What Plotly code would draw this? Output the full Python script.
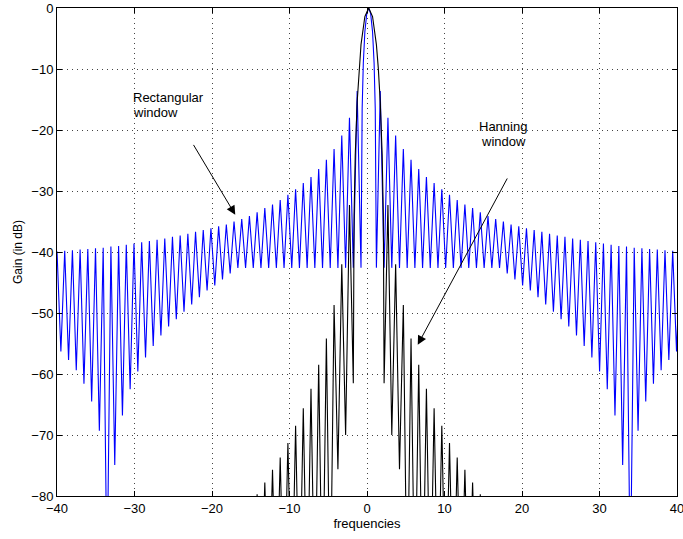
import numpy as np
import plotly.graph_objects as go

# ---------------- data ----------------
x_ticks = [-40, -30, -20, -10, 0, 10, 20, 30, 40]
y_ticks = [0, -10, -20, -30, -40, -50, -60, -70, -80]

center_freq = 0.22      # frequency of the main-lobe peak
bin_spacing = 0.993     # distance between successive nulls

# Rectangular window: main lobe (offset from centre, dB)
rect_main_offsets = [0.0, 0.25, 0.5, 0.7, 0.85]
rect_main_db = [0.0, -0.9, -3.9, -9.0, -16.5]
# null levels for nulls n = 1..40, peak levels for lobes n+0.5, n = 1..40
rect_null_db = [-42.6, -42.6, -42.6, -42.6, -42.6, -42.6, -42.6, -42.6, -42.6, -42.6,
                -42.6, -42.6, -42.6, -42.6, -42.6, -42.6, -42.6, -43.5, -44.5, -45.5,
                -46.3, -47.4, -48.6, -49.8, -51.0, -52.2, -53.7, -55.4, -57.3, -59.6,
                -62.5, -66.8, -74.9, -95.0, -69.3, -64.5, -61.6, -59.4, -57.7, -56.3]
rect_peak_db = [-13.6, -18.0, -20.9, -23.1, -24.9, -26.4, -27.7, -28.7, -29.7, -30.6,
                -31.5, -32.2, -32.8, -33.5, -34.1, -34.6, -35.0, -35.5, -35.8, -36.1,
                -36.4, -36.7, -37.0, -37.3, -37.5, -37.8, -38.0, -38.2, -38.4, -38.6,
                -38.8, -39.0, -39.1, -39.3, -39.4, -39.5, -39.6, -39.7, -39.8, -39.9]

# Hanning window: main lobe (offset from centre, dB)
hann_main_offsets = [0.0, 0.5, 1.0, 1.25, 1.5, 1.75, 1.9]
hann_main_db = [0.0, -1.4, -6.0, -9.9, -15.4, -24.1, -34.0]
# nulls n = 2..17 and lobe peaks n+0.5
hann_null_db = [-61.5, -70.0, -75.6, -100.0, -100.0, -100.0, -100.0, -100.0,
                -100.0, -100.0, -100.0, -100.0, -100.0, -100.0, -100.0, -100.0]
hann_peak_db = [-32.3, -42.0, -48.7, -54.2, -58.5, -62.4, -65.6, -68.5,
                -71.3, -73.7, -75.7, -77.8, -79.7, -81.5, -83.2, -84.8]

label_lines = [("Rectangular", -30.5, -14.6, "left"), ("window", -30.5, -17.1, "left"),
               ("Hanning", 17.6, -19.5, "center"), ("window", 17.6, -21.9, "center")]


def spectrum(main_off, main_db, first_n, null_db, peak_db):
    d = [o * bin_spacing for o in main_off]
    v = list(main_db)
    for i, (nv, pv) in enumerate(zip(null_db, peak_db)):
        n = first_n + i
        d += [n * bin_spacing, (n + 0.5) * bin_spacing]
        v += [nv, pv]
    d = np.array(d)
    v = np.array(v)
    x = np.concatenate([center_freq - d[::-1], center_freq + d[1:]])
    y = np.concatenate([v[::-1], v[1:]])
    return x, y


rx, ry = spectrum(rect_main_offsets, rect_main_db, 1, rect_null_db, rect_peak_db)
hx, hy = spectrum(hann_main_offsets, hann_main_db, 2, hann_null_db, hann_peak_db)

FONT = "Liberation Sans, Arial, Helvetica, sans-serif"

fig = go.Figure()
fig.add_trace(go.Scatter(x=rx, y=ry, mode="lines",
                         line=dict(color="#0000ff", width=1.1), name="Rectangular"))
fig.add_trace(go.Scatter(x=hx, y=hy, mode="lines",
                         line=dict(color="#000000", width=1.1), name="Hanning"))

axis_common = dict(
    showline=True, linecolor="black", linewidth=1, mirror="allticks",
    ticks="inside", ticklen=5, tickwidth=1, tickcolor="black",
    showgrid=True, gridcolor="#444444", gridwidth=1, griddash="1px,4px",
    zeroline=False, automargin=False, ticklabeloverflow="allow",
    tickfont=dict(family=FONT, size=13, color="black"),
)

fig.update_xaxes(range=[-40, 40], tickvals=x_ticks, **axis_common,
                 title=dict(text="frequencies", font=dict(family=FONT, size=13, color="black"),
                            standoff=4))
fig.update_yaxes(range=[-80, 0], tickvals=y_ticks, **axis_common,
                 title=dict(text="Gain (in dB)", font=dict(family=FONT, size=12, color="black"),
                            standoff=6))

ann_font = dict(family=FONT, size=13, color="black")
for txt, lx, ly, anchor in label_lines:
    fig.add_annotation(x=lx, y=ly, xref="x", yref="y", text=txt, showarrow=False,
                       xanchor=anchor, yanchor="middle", font=ann_font)

fig.add_annotation(x=-17.0, y=-33.9, ax=-22.5, ay=-22.2, xref="x", yref="y",
                   axref="x", ayref="y", text="", showarrow=True, arrowhead=2,
                   arrowsize=1.8, arrowwidth=1, arrowcolor="black", standoff=0)
fig.add_annotation(x=6.55, y=-55.2, ax=18.2, ay=-27.7, xref="x", yref="y",
                   axref="x", ayref="y", text="", showarrow=True, arrowhead=2,
                   arrowsize=1.8, arrowwidth=1, arrowcolor="black", standoff=0)

fig.update_layout(
    width=683, height=539,
    margin=dict(l=57, r=6, t=8, b=43),
    plot_bgcolor="white", paper_bgcolor="white",
    showlegend=False,
    font=dict(family=FONT, size=13, color="black"),
)

fig.write_html("out.html", config={"displayModeBar": False},
               post_script="document.body.style.margin='0';document.body.style.overflow='hidden';")
